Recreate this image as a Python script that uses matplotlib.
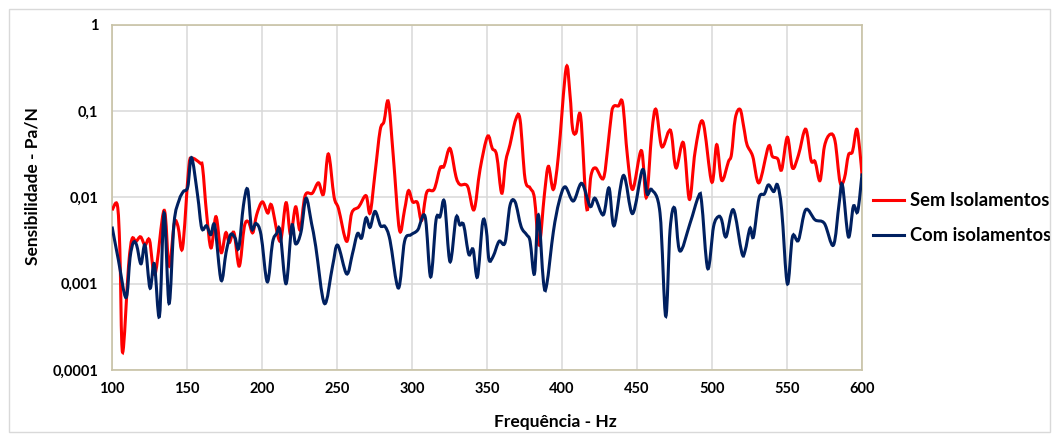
import numpy as np
import matplotlib
matplotlib.use("Agg")
import matplotlib.pyplot as plt
from matplotlib.path import Path
from matplotlib.patches import PathPatch, Rectangle
from matplotlib.lines import Line2D

plt.rcParams['font.family'] = ['Lato', 'DejaVu Sans']

# sensibilidade (Pa/N)
freq_sem = [100, 103.5, 105.2, 107, 111, 113.3, 116, 119, 122, 125, 128.7, 134.7, 138, 141.5, 144, 147,
            151, 153, 158.7, 160.4, 163, 166, 169.3, 172.7, 175.8, 178.2, 181.3, 184.8, 188.2,
            191, 193.8, 196.4, 200.2, 203.8, 206.4, 212, 216, 219, 222.4, 225.3, 228.7, 233.5,
            237.6, 241, 244.2, 248, 251, 256.4, 259.8, 264.5, 269.3, 272, 275.3, 278.7, 281.3,
            284.2, 287.5, 291.6, 295, 297.6, 300.4, 303.6, 306.4, 309.8, 314.7, 318.7, 321.3,
            325.3, 329.3, 332, 337, 341.3, 345.3, 350.3, 353.5, 356.4, 359.8, 362.4, 365.3,
            369.1, 372, 375.3, 378.7, 381.6, 384.7, 388.2, 390.9, 394.2, 397.6, 402.7, 405.3,
            407, 409.3, 412.4, 416.4, 419.3, 422.4, 427.5, 430.4, 433, 434.7, 437.6, 440.4,
            443.6, 447.1, 452.9, 456.2, 459.8, 462.6, 466.4, 471, 473, 476, 480.9, 484.9,
            488.7, 493.8, 499.8, 503.1, 506.4, 510.9, 513, 515.5, 518.7, 521.1, 523.3, 527.1,
            531.3, 537.6, 540.2, 543.8, 546.4, 550.2, 553.6, 557.6, 562.4, 566, 568.7, 572,
            574.9, 578.7, 582, 585.3, 588.2, 590.9, 593.6, 596.4, 598.5, 600]
sem_isol = [0.0071, 0.0082, 0.0025, 0.00016, 0.0016, 0.0033, 0.0031, 0.0035, 0.0028, 0.0032, 0.0013,
            0.0071, 0.0016, 0.0050, 0.0046, 0.0026, 0.021, 0.0285, 0.025, 0.022, 0.0066,
            0.0026, 0.0060, 0.0023, 0.0039, 0.0030, 0.0039, 0.0016, 0.0046, 0.0052, 0.0039,
            0.0063, 0.0089, 0.0066, 0.0081, 0.0031, 0.0087, 0.0037, 0.0078, 0.0042, 0.0105,
            0.0112, 0.0148, 0.0110, 0.032, 0.0102, 0.0074, 0.0031, 0.0066, 0.0078, 0.0105,
            0.0066, 0.019, 0.060, 0.076, 0.129, 0.030, 0.0042, 0.0072, 0.0120, 0.0089,
            0.0087, 0.0054, 0.0115, 0.0124, 0.022, 0.023, 0.037, 0.0174, 0.0141, 0.0135,
            0.0072, 0.021, 0.051, 0.037, 0.031, 0.0112, 0.026, 0.041, 0.080, 0.080,
            0.0166, 0.0129, 0.0098, 0.0028, 0.0107, 0.023, 0.0124, 0.031, 0.316, 0.155,
            0.063, 0.056, 0.087, 0.0075, 0.018, 0.022, 0.0166, 0.037, 0.095, 0.115,
            0.115, 0.124, 0.030, 0.0124, 0.035, 0.0100, 0.056, 0.105, 0.039, 0.058,
            0.054, 0.022, 0.043, 0.0095, 0.034, 0.076, 0.0151, 0.041, 0.0158, 0.026,
            0.032, 0.083, 0.105, 0.066, 0.041, 0.030, 0.0148, 0.039, 0.030, 0.028,
            0.021, 0.050, 0.022, 0.031, 0.062, 0.027, 0.026, 0.0157, 0.039, 0.054,
            0.045, 0.0151, 0.0166, 0.031, 0.034, 0.062, 0.035, 0.0178]

freq_com = [100, 104.2, 109.3, 112, 114.2, 116.4, 119.3, 122, 125.3, 128.2, 131.6, 134.7, 138,
            141.3, 144.7, 147.5, 150.5, 153, 157, 159.8, 163, 165.8, 168.5, 172.7, 176, 179,
            182, 184.5, 187.6, 190.4, 193, 196, 199.3, 203.5, 207, 209.7, 212, 216, 219.8,
            222.4, 226, 229.3, 233, 235.8, 241.6, 247, 250.4, 256.4, 260.2, 263.6, 266.4,
            269.3, 272, 275.3, 279, 282, 285.3, 290.9, 295, 299.3, 303.8, 308.7, 312.4, 316,
            318.7, 321.6, 325.3, 329.3, 331.8, 334.4, 337.8, 340.7, 343.6, 347.1, 349.5,
            351.3, 354.2, 358, 362, 365.3, 368.7, 372.7, 376.4, 378.7, 381.6, 384.2, 387.6,
            389.8, 394.2, 398, 402, 407.5, 413.1, 418.7, 422, 427.5, 431.3, 434.7, 440.9,
            447, 453.6, 456.7, 459.8, 465.3, 469.1, 472, 475.1, 478.5, 485.3, 490.9, 493,
            497.1, 501, 504.2, 506.4, 509.3, 514.2, 519.8, 522, 525.3, 527.6, 531.3, 534.9,
            537.6, 541.1, 543.6, 546.4, 550.2, 553.6, 557.6, 562.4, 568.7, 574.9, 580.9,
            584.7, 586.9, 590.9, 594.2, 597.1, 600]
com_isol = [0.0046, 0.0019, 0.00069, 0.0020, 0.0030, 0.0028, 0.0017, 0.0028, 0.00089, 0.0017,
            0.00042, 0.0066, 0.00059, 0.0050, 0.0093, 0.0117, 0.0133, 0.029, 0.0107, 0.0044,
            0.0047, 0.0037, 0.0047, 0.0011, 0.0023, 0.0037, 0.0034, 0.0026, 0.0081, 0.0124,
            0.0044, 0.0050, 0.0037, 0.00105, 0.0030, 0.0038, 0.0041, 0.0010, 0.0047, 0.0029,
            0.0040, 0.0098, 0.0050, 0.0027, 0.00059, 0.0016, 0.0028, 0.0013, 0.0022, 0.0038,
            0.0034, 0.0058, 0.0045, 0.0069, 0.0047, 0.0046, 0.0032, 0.00089, 0.0031, 0.0037,
            0.0042, 0.0060, 0.0012, 0.0055, 0.0060, 0.0089, 0.0018, 0.0058, 0.0048, 0.0048,
            0.0022, 0.0025, 0.0012, 0.0052, 0.0042, 0.0019, 0.0021, 0.0031, 0.0030, 0.0081,
            0.0089, 0.0046, 0.0037, 0.0031, 0.0013, 0.0063, 0.00105, 0.00098, 0.0040, 0.0089,
            0.0133, 0.0091, 0.0146, 0.0079, 0.0098, 0.0063, 0.0129, 0.0047, 0.018, 0.0065,
            0.021, 0.0110, 0.0123, 0.0066, 0.00042, 0.0042, 0.0075, 0.0024, 0.0050, 0.0102,
            0.0090, 0.0015, 0.0046, 0.0060, 0.0055, 0.0035, 0.0072, 0.0023, 0.0024, 0.0044,
            0.0035, 0.0098, 0.0110, 0.0140, 0.0117, 0.0140, 0.0072, 0.0010, 0.0035, 0.0032,
            0.0072, 0.0055, 0.0050, 0.0028, 0.0085, 0.0140, 0.0035, 0.0079, 0.0069, 0.019]

y_ticks = [0.0001, 0.001, 0.01, 0.1, 1]
y_labels = ['0,0001', '0,001', '0,01', '0,1', '1']
x_ticks = [100, 150, 200, 250, 300, 350, 400, 450, 500, 550, 600]


def smooth_path(x, y):
    # linha suavizada tipo Excel (Catmull-Rom -> Bezier), feita em espaco log
    p = np.column_stack([np.asarray(x, float), np.log10(y)])
    p = np.vstack([p[:1], p, p[-1:]])
    verts = [p[1]]
    codes = [Path.MOVETO]
    for i in range(1, len(p) - 2):
        c1 = p[i] + (p[i + 1] - p[i - 1]) / 6
        c2 = p[i + 1] - (p[i + 2] - p[i]) / 6
        verts += [c1, c2, p[i + 1]]
        codes += [Path.CURVE4] * 3
    verts = np.array(verts)
    verts[:, 1] = 10 ** verts[:, 1]
    return Path(verts, codes)


fig = plt.figure(figsize=(10.58, 4.36), dpi=100)
ax = fig.add_axes([0.1059, 0.1514, 0.7089, 0.7913])
ax.set_yscale('log')
ax.set_xlim(100, 600)
ax.set_ylim(0.0001, 1)

red = '#ff0000'
navy = '#002060'
ax.add_patch(PathPatch(smooth_path(freq_sem, sem_isol), facecolor='none',
                       edgecolor=red, lw=2.2, zorder=3))
ax.add_patch(PathPatch(smooth_path(freq_com, com_isol), facecolor='none',
                       edgecolor=navy, lw=2.2, zorder=4))

ax.set_xticks(x_ticks)
ax.set_yticks(y_ticks)
ax.set_yticklabels(y_labels)
ax.minorticks_off()
ax.tick_params(length=0, labelsize=10.5)
ax.tick_params(axis='x', pad=9)
ax.tick_params(axis='y', pad=10)
for lab in ax.get_xticklabels() + ax.get_yticklabels():
    lab.set_fontweight('bold')
ax.grid(True, color='#d9d9d9', lw=1.1)
ax.set_axisbelow(True)
for s in ax.spines.values():
    s.set_color('#c8c2a6')
    s.set_linewidth(1.2)

ax.set_xlabel('Frequência - Hz', fontsize=12.5, fontweight='bold')
ax.set_ylabel('Sensibilidade - Pa/N', fontsize=12.5, fontweight='bold')
ax.xaxis.set_label_coords(0.591, -0.128)
ax.yaxis.set_label_coords(-0.095, 0.532)

handles = [Line2D([], [], color=red, lw=2.2), Line2D([], [], color=navy, lw=2.2)]
ax.legend(handles, ['Sem Isolamentos', 'Com isolamentos'], loc='center left',
          bbox_to_anchor=(1.015, 0.44), frameon=False, borderpad=0, borderaxespad=0,
          handlelength=1.7, handletextpad=0.3, labelspacing=1.0,
          prop={'weight': 'bold', 'size': 13.2})

fig.patches.append(Rectangle((9 / 1058, 4 / 436), 1041 / 1058, 423 / 436,
                             transform=fig.transFigure, fill=False,
                             edgecolor='#d9d9d9', lw=1))

fig.savefig('out.png', dpi=100)
